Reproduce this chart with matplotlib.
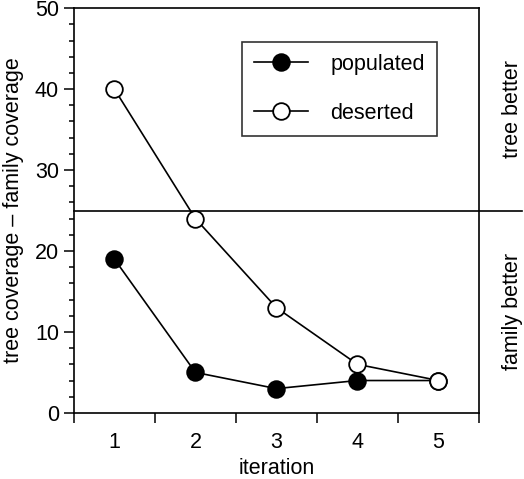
import numpy as np
import matplotlib
matplotlib.use("Agg")
import matplotlib.pyplot as plt
from matplotlib.ticker import MultipleLocator, FixedLocator, NullFormatter

plt.rcParams['font.family'] = ['Liberation Sans', 'DejaVu Sans']
plt.rcParams['font.size'] = 15.5

iterations = [1, 2, 3, 4, 5]
populated = [19, 5, 3, 4, 4]
deserted = [40, 24, 13, 6, 4]
threshold = 25

fig = plt.figure(figsize=(5.24, 4.79), dpi=100)
ax = fig.add_axes([0.141, 0.138, 0.773, 0.845])

ax.plot(iterations, populated, '-o', color='black', lw=1.2, ms=12,
        mfc='black', mec='black', mew=1.3, label='populated', zorder=3)
ax.plot(iterations, deserted, '-o', color='black', lw=1.2, ms=12,
        mfc='white', mec='black', mew=1.3, label='deserted', zorder=3)

# divider line running past the right spine
ax.plot([0.5, 6.03], [threshold, threshold], color='black', lw=1.2,
        clip_on=False, zorder=2)

ax.set_xlim(0.5, 5.5)
ax.set_ylim(0, 50)

ax.xaxis.set_major_locator(FixedLocator(np.arange(0.5, 6.0, 1.0)))
ax.xaxis.set_major_formatter(NullFormatter())
ax.xaxis.set_minor_locator(FixedLocator(iterations))
ax.set_xticklabels([str(i) for i in iterations], minor=True)
ax.tick_params(axis='x', which='major', direction='out', length=7.2, width=1.1)
ax.tick_params(axis='x', which='minor', length=0, pad=14)

ax.yaxis.set_major_locator(MultipleLocator(10))
ax.yaxis.set_minor_locator(MultipleLocator(2))
ax.tick_params(axis='y', which='major', direction='out', length=7.2, width=1.1, pad=3.5)
ax.tick_params(axis='y', which='minor', direction='out', length=3.6, width=1.1)

for s in ax.spines.values():
    s.set_linewidth(1.2)

ax.set_xlabel('iteration', labelpad=3)
ax.set_ylabel('tree coverage \u2013 family coverage', labelpad=8)

ax.text(1.082, 37.5, 'tree better', transform=ax.get_yaxis_transform(),
        rotation=90, ha='center', va='center')
ax.text(1.082, 12.5, 'family better', transform=ax.get_yaxis_transform(),
        rotation=90, ha='center', va='center')

leg = ax.legend(loc='upper left', bbox_to_anchor=(0.415, 0.916),
                frameon=True, fancybox=False, edgecolor='black',
                handlelength=2.5, handletextpad=1.05, labelspacing=1.3,
                borderpad=0.55, borderaxespad=0, numpoints=1)
leg.get_frame().set_linewidth(1.2)

fig.savefig('out.png', dpi=100)
